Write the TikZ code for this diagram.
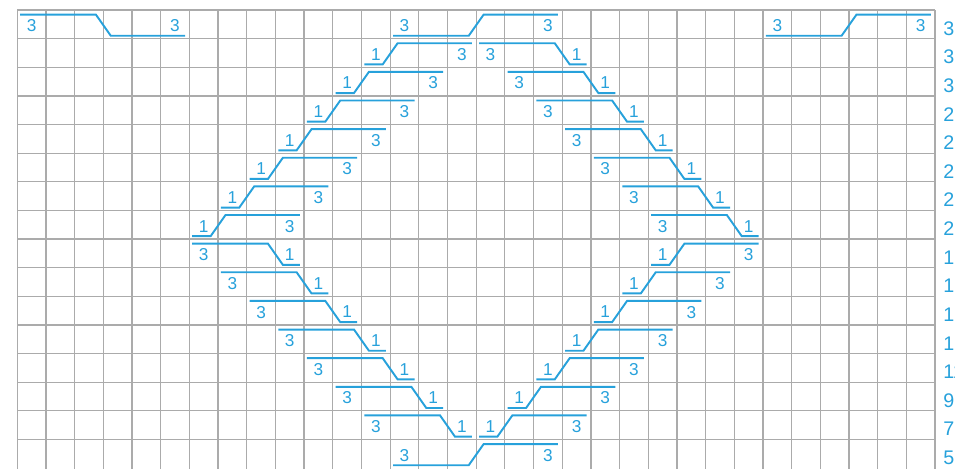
\documentclass[tikz,border=0pt]{standalone}
\usepackage{fontspec}
\newfontfamily\chartfont{Liberation Sans}
\usepackage{tikz}
\usetikzlibrary{calc}
\usepackage{xcolor}
\definecolor{cable}{HTML}{27A1DB}
\definecolor{gridgray}{HTML}{ABABAB}
\tikzset{
  gridline/.style={draw=gridgray,line width=0.7pt},
  cableline/.style={draw=cable,line width=1.1pt},
  count/.style={text=cable,font=\chartfont\fontsize{9.8}{10}\selectfont,inner sep=0pt},
  rowno/.style={text=cable,font=\chartfont\fontsize{11.2}{12}\selectfont,inner sep=0pt,anchor=west}
}
% #1 first column, #2 row (0 = bottom), #3 stitches left, #4 stitches right
\newcommand{\crossdown}[4]{%
  \draw[cableline] (#1+0.1,#2+0.84) -- (#1+#3-0.26,#2+0.84) -- (#1+#3+0.26,#2+0.1) -- (#1+#3+#4-0.15,#2+0.1);
  \node[count] (k#1r#2a) at (#1+0.5,#2+0.45) {#3};
  \node[count] (k#1r#2b) at (#1+#3+#4-0.5,#2+0.45) {#4};
}
\newcommand{\crossup}[4]{%
  \draw[cableline] (#1+0.1,#2+0.1) -- (#1+#3-0.26,#2+0.1) -- (#1+#3+0.26,#2+0.84) -- (#1+#3+#4-0.15,#2+0.84);
  \node[count] (k#1r#2a) at (#1+0.5,#2+0.45) {#3};
  \node[count] (k#1r#2b) at (#1+#3+#4-0.5,#2+0.45) {#4};
}

\begin{document}
\begin{tikzpicture}[x=0.5736cm,y=0.5726cm]
  \useasboundingbox (-0.603,0) rectangle (32.695,16.35);
  % grid
  \foreach \i in {0,...,32} \draw[gridline] (\i,-0.3) -- (\i,16);
  \foreach \j in {1,...,16} \draw[gridline] (0,\j) -- (32,\j);
  % row numbers
  \foreach \r in {0,...,15} {
    \pgfmathtruncatemacro{\n}{35-2*\r}
    \node[rowno] (row\n) at (32.28,15.36-\r) {\n};
  }
  % top row
  \crossdown{0}{15}{3}{3}
  \crossup{13}{15}{3}{3}
  \crossup{26}{15}{3}{3}
  % upper half of diamond
  \foreach \r in {1,...,7} {
    \pgfmathtruncatemacro{\y}{15-\r}
    \pgfmathtruncatemacro{\a}{13-\r}
    \pgfmathtruncatemacro{\b}{15+\r}
    \crossup{\a}{\y}{1}{3}
    \crossdown{\b}{\y}{3}{1}
  }
  % lower half of diamond
  \foreach \r in {8,...,14} {
    \pgfmathtruncatemacro{\y}{15-\r}
    \pgfmathtruncatemacro{\a}{\r-2}
    \pgfmathtruncatemacro{\b}{30-\r}
    \crossdown{\a}{\y}{3}{1}
    \crossup{\b}{\y}{1}{3}
  }
  % bottom row
  \crossup{13}{0}{3}{3}
\end{tikzpicture}
\end{document}
